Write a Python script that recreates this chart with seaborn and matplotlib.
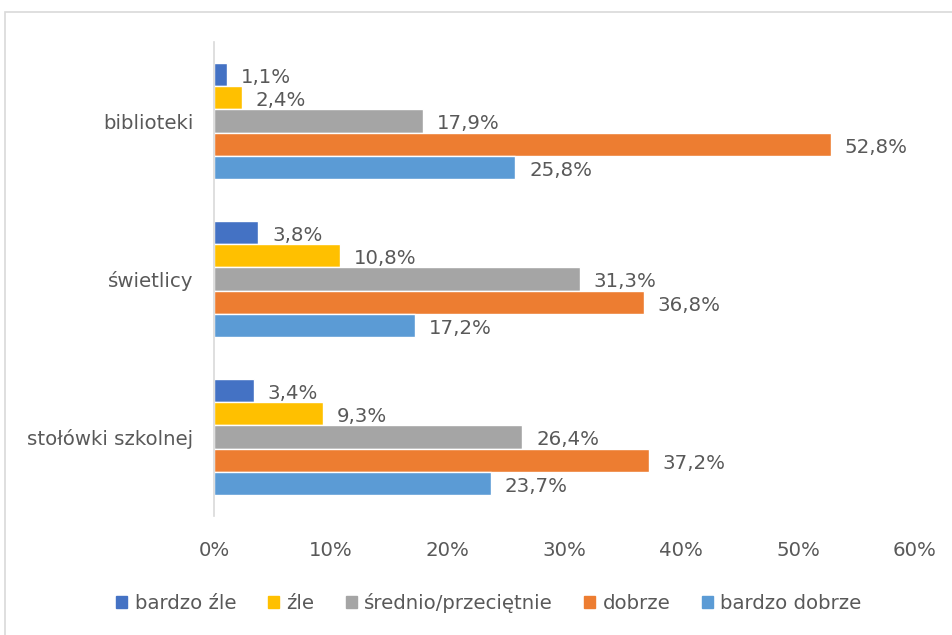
import matplotlib
matplotlib.use("Agg")
import matplotlib.pyplot as plt
import matplotlib.patches as mpatches
import pandas as pd
import seaborn as sns

# Data
places = ["biblioteki", "świetlicy", "stołówki szkolnej"]
ratings = ["bardzo źle", "źle", "średnio/przeciętnie", "dobrze", "bardzo dobrze"]
bardzo_zle = [1.1, 3.8, 3.4]
zle = [2.4, 10.8, 9.3]
srednio = [17.9, 31.3, 26.4]
dobrze = [52.8, 36.8, 37.2]
bardzo_dobrze = [25.8, 17.2, 23.7]
colors = ["#4472C4", "#FFC000", "#A5A5A5", "#ED7D31", "#5B9BD5"]
xticks = [0, 10, 20, 30, 40, 50, 60]

series = [bardzo_zle, zle, srednio, dobrze, bardzo_dobrze]
rows = []
for rating, vals in zip(ratings, series):
    for place, v in zip(places, vals):
        rows.append({"place": place, "rating": rating, "value": v})
df = pd.DataFrame(rows)

sns.set_theme(style="white")
plt.rcParams["font.family"] = ["DejaVu Sans"]
text_col = "#595959"
fs = 14.2

fig = plt.figure(figsize=(9.52, 6.35), dpi=100)
ax = fig.add_axes([214 / 952, 1 - 516 / 635, (915 - 214) / 952, (516 - 42) / 635])

sns.barplot(data=df, y="place", x="value", hue="rating", order=places,
            hue_order=ratings, palette=colors, orient="h", width=0.74,
            saturation=1, ax=ax, legend=False)

# Value labels
for container in ax.containers:
    labels = [f"{v:.1f}%".replace(".", ",") for v in container.datavalues]
    anns = ax.bar_label(container, labels=labels, padding=10, fontsize=fs, color=text_col)
    for a in anns:
        a.xyann = (10, -2)

ax.set_xlim(0, 60)
ax.set_xticks(xticks)
ax.set_xticklabels([f"{t}%" for t in xticks], fontsize=fs, color=text_col)
ax.tick_params(axis="y", labelsize=fs, labelcolor=text_col, length=0, pad=15)
ax.tick_params(axis="x", length=0, pad=18)
ax.set_xlabel("")
ax.set_ylabel("")
for s in ["top", "right", "bottom"]:
    ax.spines[s].set_visible(False)
ax.spines["left"].set_color("#D9D9D9")
ax.spines["left"].set_linewidth(1.2)

# Legend
handles = [mpatches.Patch(color=c, label=r) for c, r in zip(colors, ratings)]
fig.legend(handles=handles, loc="center", bbox_to_anchor=(489 / 952, 1 - 603 / 635),
           ncol=5, frameon=False, fontsize=fs, handlelength=0.55, handleheight=0.55,
           handletextpad=0.38, columnspacing=1.6, labelcolor=text_col)

# Chart border
fig.patches.append(mpatches.Rectangle((5 / 952, -0.05), 1.0, 1 - 12 / 635 + 0.05,
                                      transform=fig.transFigure, fill=False,
                                      edgecolor="#D9D9D9", linewidth=1.2))

fig.savefig("out.png", dpi=100)
